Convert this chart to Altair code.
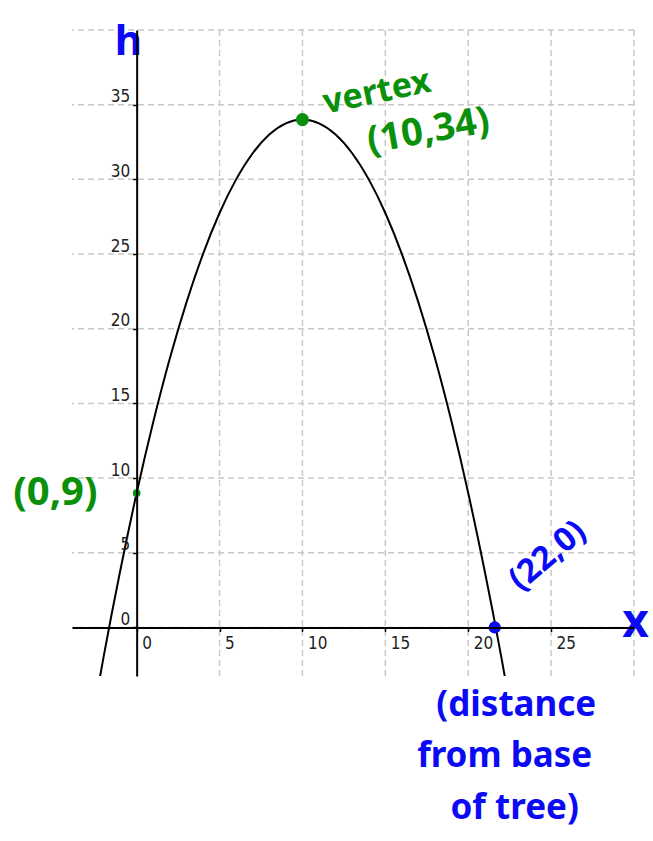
import altair as alt
import pandas as pd

# Height of the ball h against horizontal distance x from the base of the tree
x_vals = [-3, -2, -1, 0, 1, 2, 3, 4, 5, 6, 7, 8, 9, 10, 11, 12, 13,
          14, 15, 16, 17, 18, 19, 20, 21, 22, 23]
h_vals = [-8.25, -2, 3.75, 9, 13.75, 18, 21.75, 25, 27.75, 30, 31.75, 33,
          33.75, 34, 33.75, 33, 31.75, 30, 27.75, 25, 21.75, 18, 13.75, 9,
          3.75, -2, -8.25]

# Tick positions and labels
x_grid = [5, 10, 15, 20, 25, 30]
y_grid = [0, 5, 10, 15, 20, 25, 30, 35, 40]
x_ticks = [0, 5, 10, 15, 20, 25]
y_ticks = [0, 5, 10, 15, 20, 25, 30, 35]

# Highlighted points
pt_x = [10, 0, 21.6]
pt_h = [34, 9, 0]
pt_color = ["green", "green", "blue"]
pt_size = [170, 60, 150]

# Annotations
note_text = ["vertex", "(10,34)", "(0,9)", "(22,0)",
             "(distance", "from base", "of tree)", "h", "x"]
note_x = [14.5, 17.6, -4.9, 24.8, 22.9, 22.2, 22.8, -0.5, 30.1]
note_h = [35.8, 33.2, 9.0, 4.8, -5.2, -8.6, -12.1, 39.2, 0.3]
note_color = ["green", "green", "green", "blue", "blue", "blue", "blue",
              "blue", "blue"]
note_angle = [348, 350, 0, 320, 0, 0, 0, 0, 0]
note_size = [34, 38, 40, 33, 35, 35, 35, 42, 46]

GREEN = "#0a900a"
BLUE = "#0a0af5"
X_DOM = [-3.9, 30]
Y_DOM = [-3.25, 40]
W, H = 562, 646

curve = pd.DataFrame({"x": x_vals, "h": h_vals})
points = pd.DataFrame({"x": pt_x, "h": pt_h, "c": pt_color, "s": pt_size})
notes = pd.DataFrame({"t": note_text, "x": note_x, "h": note_h,
                      "c": note_color, "a": note_angle, "fs": note_size})

xs = alt.Scale(domain=X_DOM, nice=False, zero=False)
ys = alt.Scale(domain=Y_DOM, nice=False, zero=False)
col = alt.Scale(domain=["green", "blue"], range=[GREEN, BLUE])

# axes sit on the lines x = 0 and h = 0 inside the plot
y_off = -(0 - X_DOM[0]) / (X_DOM[1] - X_DOM[0]) * W
x_off = -(0 - Y_DOM[0]) / (Y_DOM[1] - Y_DOM[0]) * H

label_font = "DejaVu Sans Condensed"

x_axis = alt.Axis(values=x_ticks, grid=False, title=None, offset=x_off,
                  domainColor="black", domainWidth=2, tickColor="black",
                  tickWidth=1.5, tickSize=4, labelAlign="left", labelOffset=5,
                  labelBaseline="top", labelPadding=4, labelFont=label_font,
                  labelFontSize=17, labelColor="#222222", zindex=1)
y_axis = alt.Axis(values=y_ticks, grid=False, title=None, offset=y_off,
                  domainColor="black", domainWidth=2, tickColor="black",
                  tickWidth=1.5, tickSize=4, labelAlign="right",
                  labelBaseline="alphabetic", labelOffset=-3, labelPadding=3,
                  labelFont=label_font, labelFontSize=17,
                  labelColor="#222222", zindex=1)

grid_style = dict(color="#c8c8c8", strokeWidth=1.5, strokeDash=[6, 4])

vgrid = alt.Chart(pd.DataFrame({"x": x_grid})).mark_rule(**grid_style).encode(
    x=alt.X("x:Q", scale=xs, axis=x_axis))
hgrid = alt.Chart(pd.DataFrame({"h": y_grid})).mark_rule(**grid_style).encode(
    y=alt.Y("h:Q", scale=ys, axis=y_axis))

line = alt.Chart(curve).mark_line(
    color="black", strokeWidth=2, interpolate="natural", clip=True
).encode(x=alt.X("x:Q", scale=xs), y=alt.Y("h:Q", scale=ys))

dots = alt.Chart(points).mark_circle(opacity=1).encode(
    x=alt.X("x:Q", scale=xs), y=alt.Y("h:Q", scale=ys),
    color=alt.Color("c:N", scale=col, legend=None),
    size=alt.Size("s:Q", scale=None, legend=None))

labels = alt.Chart(notes).mark_text(
    font="Noto Sans", fontWeight="bold", align="center", baseline="middle"
).encode(
    x=alt.X("x:Q", scale=xs), y=alt.Y("h:Q", scale=ys), text="t:N",
    color=alt.Color("c:N", scale=col, legend=None),
    angle=alt.Angle("a:Q", scale=None),
    size=alt.Size("fs:Q", scale=None, legend=None))

chart = alt.layer(vgrid, hgrid, line, dots, labels).properties(
    width=W, height=H,
    padding={"left": 72, "top": 30, "right": 19, "bottom": 165},
    autosize=alt.AutoSizeParams(type="none"),
    background="white",
).configure_view(strokeWidth=0)

chart.save("out.html", embed_options={"renderer": "svg", "actions": False})
